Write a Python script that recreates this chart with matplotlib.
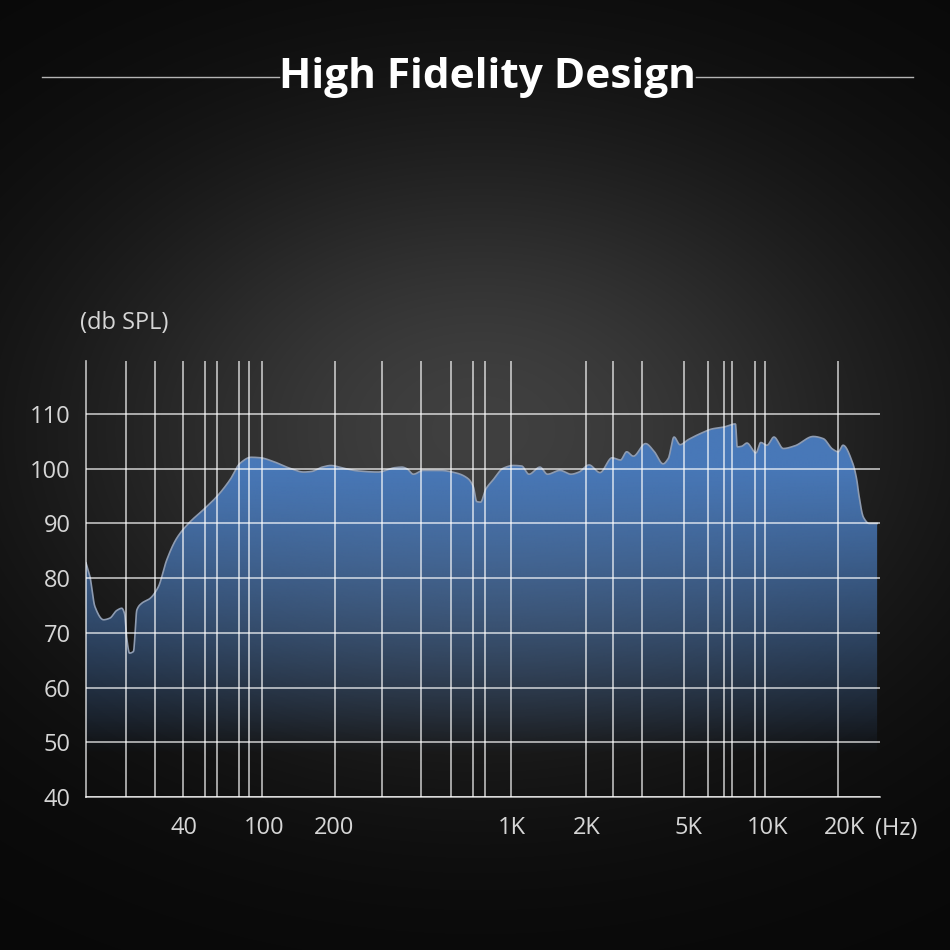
import numpy as np
import matplotlib
matplotlib.use("Agg")
import matplotlib.pyplot as plt
from matplotlib.ticker import FixedLocator, FixedFormatter
from matplotlib.patches import Polygon
from matplotlib.lines import Line2D

# frequency response
FREQ_HZ = [13.0, 13.6, 14.4, 15.9, 17.1, 18.5, 19.6, 20.2, 20.8, 21.4,
           22.4, 23.3, 24.6, 27.1, 29.8, 32.8, 36.8, 42.9, 49.9, 58.2,
           67.8, 76.0, 86.2, 96.6, 110, 129, 148, 160, 178, 194,
           218, 249, 298, 347, 370, 387, 410, 448, 522, 607,
           672, 705, 727, 753, 790, 844, 924, 1012, 1094, 1170,
           1295, 1388, 1558, 1725, 1858, 2037, 2250, 2509, 2710, 2867,
           3045, 3401, 3673, 3987, 4183, 4405, 4650, 5000, 5548, 6183,
           6788, 7545, 7657, 7949, 8336, 9012, 9395, 9913, 10560, 11500,
           12790, 15110, 16560, 18010, 18980, 19820, 21660, 22470, 22840, 23900,
           25180, 27080]
SPL_DB = [82.8, 80.3, 74.8, 72.4, 72.7, 74.1, 74.5, 73.6, 68.7, 66.3,
          66.6, 74.2, 75.4, 76.3, 78.4, 83.3, 87.3, 90.3, 92.5, 94.9,
          98.0, 101.0, 102.1, 102.0, 101.3, 100.1, 99.4, 99.5, 100.3, 100.6,
          100.1, 99.6, 99.4, 100.2, 100.3, 100.0, 99.0, 99.7, 99.7, 99.2,
          98.2, 96.7, 94.0, 93.9, 96.3, 98.0, 100.1, 100.6, 100.5, 99.0,
          100.3, 99.0, 99.7, 99.0, 99.4, 100.7, 99.3, 102.0, 101.6, 103.1,
          102.3, 104.6, 103.2, 100.9, 101.9, 105.8, 104.4, 105.3, 106.4, 107.3,
          107.6, 108.2, 104.0, 104.1, 104.7, 102.9, 104.8, 104.3, 105.8, 103.7,
          104.2, 105.9, 105.5, 103.6, 103.1, 104.3, 101.0, 98.0, 95.6, 91.1,
          90.0, 90.0]

TICK_HZ = [40, 100, 200, 1000, 2000, 5000, 10000, 20000]
TICK_LABELS = ["40", "100", "200", "1K", "2K", "5K", "10K", "20K"]
GRID_HZ = [20.6, 28.7, 39.5, 51, 58.4, 75, 84, 97.7, 202, 309, 439, 576, 703,
           783, 991, 1980, 2530, 3290, 4820, 5950, 6830, 7320, 8930, 9740, 18900]
Y_TICKS = [40, 50, 60, 70, 80, 90, 100, 110]

X_MIN, X_MAX = 13.0, 27800.0
Y_MIN, Y_MAX = 40, 119.7

# the printed axis is only roughly logarithmic: warp log(f) piecewise
WARP_HZ = [X_MIN] + TICK_HZ + [X_MAX]
WARP_POS = [0.0, 0.1234, 0.2242, 0.3123, 0.5365, 0.6310, 0.7582, 0.8589, 0.9547, 1.0]
LOGW = np.log10(WARP_HZ)


def _warp(v, xp, fp):
    v = np.asarray(v, dtype=float)
    out = np.interp(v, xp, fp)
    lo = v < xp[0]
    hi = v > xp[-1]
    out = np.where(lo, fp[0] + (v - xp[0]) * (fp[1] - fp[0]) / (xp[1] - xp[0]), out)
    out = np.where(hi, fp[-1] + (v - xp[-1]) * (fp[-1] - fp[-2]) / (xp[-1] - xp[-2]), out)
    return out


def forward(f):
    f = np.asarray(f, dtype=float)
    return _warp(np.log10(np.maximum(f, 1e-6)), LOGW, WARP_POS)


def inverse(u):
    return 10 ** _warp(u, WARP_POS, LOGW)


def pchip(x, y, xn):
    x = np.asarray(x, float)
    y = np.asarray(y, float)
    h = np.diff(x)
    d = np.diff(y) / h
    m = np.zeros_like(y)
    w1 = 2 * h[1:] + h[:-1]
    w2 = h[1:] + 2 * h[:-1]
    same = d[:-1] * d[1:] > 0
    with np.errstate(divide="ignore", invalid="ignore"):
        hm = (w1 + w2) / (w1 / d[:-1] + w2 / d[1:])
    m[1:-1] = np.where(same, hm, 0.0)
    m[0] = d[0]
    m[-1] = d[-1]
    i = np.clip(np.searchsorted(x, xn) - 1, 0, len(x) - 2)
    t = (xn - x[i]) / h[i]
    h00 = 2 * t**3 - 3 * t**2 + 1
    h10 = t**3 - 2 * t**2 + t
    h01 = -2 * t**3 + 3 * t**2
    h11 = t**3 - t**2
    return h00 * y[i] + h10 * h[i] * m[i] + h01 * y[i + 1] + h11 * h[i] * m[i + 1]


plt.rcParams["font.family"] = ["Open Sans", "DejaVu Sans"]
TXT = "#d6d6d6"

fig = plt.figure(figsize=(9.5, 9.5), dpi=100, facecolor="black")

# dark radial backdrop
bg = fig.add_axes([0, 0, 1, 1], zorder=-1)
yy, xx = np.mgrid[0:950, 0:950]
r2 = ((xx - 480) / 420.0) ** 2 + ((yy - 430) / 300.0) ** 2
shade = 0.03 + 0.22 * np.exp(-r2)
bg.imshow(np.dstack([shade, shade, shade]), extent=[0, 1, 0, 1], aspect="auto",
          interpolation="bilinear")
bg.axis("off")

ax = fig.add_axes([86 / 950, 1 - 797 / 950, 794 / 950, 436 / 950])
ax.patch.set_alpha(0)
ax.set_xscale("function", functions=(forward, inverse))

lf = np.linspace(np.log10(FREQ_HZ[0]), np.log10(FREQ_HZ[-1]), 2000)
curve = pchip(np.log10(FREQ_HZ), SPL_DB, lf)
fx = 10 ** lf

poly = Polygon(np.column_stack([np.r_[fx, fx[-1], fx[0]], np.r_[curve, Y_MIN, Y_MIN]]),
               closed=True, facecolor="none", edgecolor="none")
ax.add_patch(poly)

# blue fill fading towards the bottom
db = np.linspace(Y_MIN, Y_MAX, 300)
alpha = np.clip((db - 48) / 52.0, 0, 1) ** 0.85
rgba = np.zeros((300, 2, 4))
rgba[..., 0] = 72 / 255
rgba[..., 1] = 120 / 255
rgba[..., 2] = 184 / 255
rgba[..., 3] = alpha[:, None]
img = ax.imshow(rgba, extent=[0, 1, 0, 1], transform=ax.transAxes, origin="lower",
                aspect="auto", interpolation="bilinear", zorder=1)
img.set_clip_path(poly)

ax.plot(fx, curve, color="#8e9bb0", lw=1.2, zorder=2)

ax.set_xlim(X_MIN, X_MAX)
ax.set_ylim(Y_MIN, Y_MAX)
ax.xaxis.set_major_locator(FixedLocator(TICK_HZ))
ax.xaxis.set_major_formatter(FixedFormatter(TICK_LABELS))
ax.xaxis.set_minor_locator(FixedLocator(GRID_HZ))
ax.xaxis.set_minor_formatter(FixedFormatter([""] * len(GRID_HZ)))
ax.set_yticks(Y_TICKS)

ax.set_axisbelow(False)
grid_kw = dict(color="white", alpha=0.72, lw=1.2)
ax.grid(True, which="minor", axis="x", **grid_kw)
ax.grid(True, which="major", axis="y", **grid_kw)
ax.grid(False, which="major", axis="x")
for s in ["top", "right"]:
    ax.spines[s].set_visible(False)
for s in ["left", "bottom"]:
    ax.spines[s].set_color((1, 1, 1, 0.72))
    ax.spines[s].set_linewidth(1.2)

ax.tick_params(which="both", length=0)
ax.tick_params(axis="y", pad=11, labelsize=17, labelcolor=TXT)
ax.tick_params(axis="x", pad=14, labelsize=17, labelcolor=TXT)

fig.text(80 / 950, 1 - 323 / 950, "(db SPL)", ha="left", va="center",
         fontsize=17, color=TXT)
fig.text(896 / 950, 1 - 829 / 950, "(Hz)", ha="center", va="center",
         fontsize=17, color=TXT)

fig.text(487 / 950, 1 - 77 / 950, "High Fidelity Design", ha="center", va="center",
         fontsize=30.5, fontweight="bold", color="white")
for x0, x1 in [(42, 279), (696, 913)]:
    fig.add_artist(Line2D([x0 / 950, x1 / 950], [1 - 77 / 950, 1 - 77 / 950],
                          color="#b5b5b5", lw=1.0))

fig.savefig("out.png", dpi=100, facecolor="black")
